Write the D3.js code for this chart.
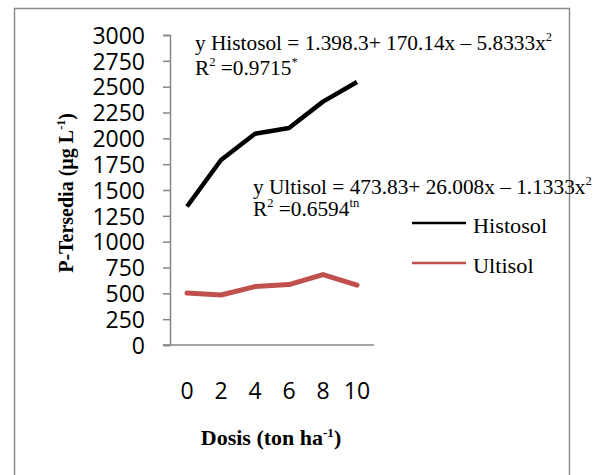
<!DOCTYPE html>
<html>
<head>
<meta charset="utf-8">
<script src="https://cdn.jsdelivr.net/npm/d3@7"></script>
<style>
  body { margin: 0; background: #fff; }
  svg { display: block; }
</style>
</head>
<body>
<svg width="606" height="475"></svg>
<script>
// values
var doses = ["0", "2", "4", "6", "8", "10"];
var histosol = [1340, 1790, 2045, 2100, 2355, 2545];
var ultisol = [503, 484, 565, 585, 682, 580];
var yTicks = [0, 250, 500, 750, 1000, 1250, 1500, 1750, 2000, 2250, 2500, 2750, 3000];

var svg = d3.select("svg");
var serif = "'Liberation Serif', 'Times New Roman', serif";
var sans = "'Open Sans', sans-serif";

// chart frame
svg.append("rect")
    .attr("x", 14.5).attr("y", 8.5)
    .attr("width", 555).attr("height", 490)
    .attr("fill", "none")
    .attr("stroke", "#8c8c8c")
    .attr("stroke-width", 1.5);

var x = d3.scaleBand().domain(doses).range([170, 374]).padding(0);
var y = d3.scaleLinear().domain([0, 3000]).range([345, 35]);

// y axis
var yAxis = svg.append("g")
    .attr("transform", "translate(170,0)")
    .call(d3.axisLeft(y).tickValues(yTicks).tickFormat(d3.format("d")).tickSize(7).tickPadding(18));
yAxis.select(".domain").attr("stroke", "#868686").attr("stroke-width", 1.5);
yAxis.selectAll(".tick line").attr("stroke", "#868686").attr("stroke-width", 1.5);
yAxis.selectAll("text")
    .attr("font-family", sans)
    .attr("font-size", 23)
    .attr("fill", "#000")
    .attr("dy", "0.36em");

// x axis
var xAxis = svg.append("g")
    .attr("transform", "translate(0,345)")
    .call(d3.axisBottom(x).tickSize(0).tickPadding(0));
xAxis.select(".domain").remove();
svg.append("line")
    .attr("x1", 163).attr("x2", 374)
    .attr("y1", 345).attr("y2", 345)
    .attr("stroke", "#868686").attr("stroke-width", 1.5);
xAxis.selectAll("text")
    .attr("font-family", sans)
    .attr("font-size", 23)
    .attr("fill", "#000")
    .attr("y", 54)
    .attr("dy", 0);

var line = d3.line()
    .x(function(d, i) { return x(doses[i]) + x.bandwidth() / 2; })
    .y(function(d) { return y(d); });

svg.append("path")
    .datum(histosol)
    .attr("d", line)
    .attr("fill", "none")
    .attr("stroke", "#000")
    .attr("stroke-width", 4.5)
    .attr("stroke-linejoin", "round");

svg.append("path")
    .datum(ultisol)
    .attr("d", line)
    .attr("fill", "none")
    .attr("stroke", "#c0504d")
    .attr("stroke-width", 5)
    .attr("stroke-linecap", "round")
    .attr("stroke-linejoin", "round");

// axis titles
svg.append("text")
    .attr("transform", "translate(73,193) rotate(-90) scale(1,1.1)")
    .attr("text-anchor", "middle")
    .attr("font-family", serif)
    .attr("font-weight", "bold")
    .attr("font-size", 20)
    .html("P-Tersedia (µg L<tspan dy='-7' font-size='12'>-1</tspan><tspan dy='7'>)</tspan>");

svg.append("text")
    .attr("transform", "translate(271,445)")
    .attr("text-anchor", "middle")
    .attr("font-family", serif)
    .attr("font-weight", "bold")
    .attr("font-size", 22)
    .html("Dosis (ton ha<tspan dy='-8' font-size='13'>-1</tspan><tspan dy='8'>)</tspan>");

// regression equations
function eq(xp, yp, body) {
    svg.append("text")
        .attr("transform", "translate(" + xp + "," + yp + ") scale(1.04,1)")
        .attr("font-family", serif)
        .attr("font-size", 20.5)
        .attr("fill", "#000")
        .html(body);
}
eq(195, 50, "y Histosol = 1.398.3+ 170.14x – 5.8333x<tspan dy='-9' font-size='12'>2</tspan>");
eq(195, 75, "R<tspan dy='-9' font-size='12'>2</tspan><tspan dy='9'> =0.9715</tspan><tspan dy='-9' font-size='12'>*</tspan>");
eq(253, 194, "y Ultisol = 473.83+ 26.008x – 1.1333x<tspan dy='-9' font-size='12'>2</tspan>");
eq(253, 216, "R<tspan dy='-9' font-size='12'>2</tspan><tspan dy='9'> =0.6594</tspan><tspan dy='-9' font-size='12'>tn</tspan>");

// legend
var legendItems = [
    { name: "Histosol", color: "#000", y: 223 },
    { name: "Ultisol", color: "#c0504d", y: 263 }
];
var lg = svg.append("g");
lg.selectAll("line").data(legendItems).enter().append("line")
    .attr("x1", 412).attr("x2", 466)
    .attr("y1", function(d) { return d.y; })
    .attr("y2", function(d) { return d.y; })
    .attr("stroke", function(d) { return d.color; })
    .attr("stroke-width", 2.5);
lg.selectAll("text").data(legendItems).enter().append("text")
    .attr("transform", function(d) { return "translate(473," + (d.y + 9.5) + ") scale(1.06,1)"; })
    .attr("font-family", serif)
    .attr("font-size", 21)
    .text(function(d) { return d.name; });
</script>
</body>
</html>
